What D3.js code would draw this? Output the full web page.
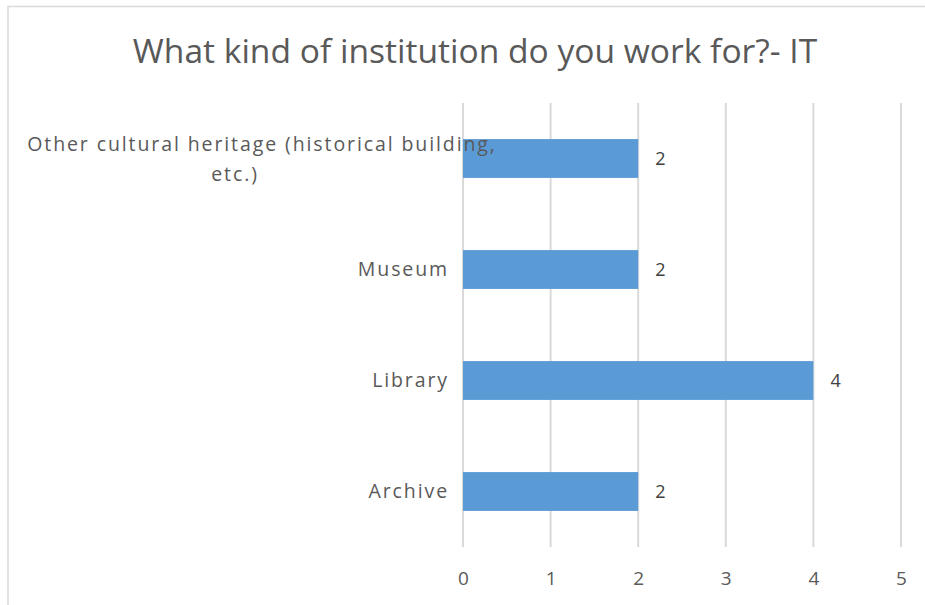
<!DOCTYPE html>
<html>
<head>
<meta charset="utf-8">
<script src="https://cdn.jsdelivr.net/npm/d3@7"></script>
<style>
  html, body { margin: 0; padding: 0; background: #fff; }
  svg { display: block; }
  text { font-family: "Open Sans", "Noto Sans", sans-serif; }
</style>
</head>
<body>
<svg id="chart" width="925" height="605"></svg>
<script>
// Survey answers, listed top to bottom
const categories = [
  ["Other cultural heritage (historical building,", "etc.)"],
  ["Museum"],
  ["Library"],
  ["Archive"]
];
const counts = [2, 2, 4, 2];
const xTicks = [0, 1, 2, 3, 4, 5];
const title = "What kind of institution do you work for?- IT";

const svg = d3.select("#chart");
const W = 925, H = 605;
const margin = { top: 103, right: 24, bottom: 58, left: 463 };

// chart frame
svg.append("rect")
  .attr("x", 8).attr("y", 6.5)
  .attr("width", W + 20).attr("height", H + 20)
  .attr("fill", "#fff").attr("stroke", "#d9d9d9").attr("stroke-width", 1.5);

svg.append("text")
  .attr("x", 475).attr("y", 63)
  .attr("text-anchor", "middle")
  .attr("font-size", 33.6)
  .attr("fill", "#595959")
  .text(title);

const x = d3.scaleLinear().domain([0, 5]).range([margin.left, 901]);
const y = d3.scaleBand()
  .domain(d3.range(categories.length))
  .range([margin.top, H - margin.bottom])
  .paddingInner(0.65).paddingOuter(0.325);

// vertical gridlines
svg.append("g")
  .selectAll("line")
  .data(xTicks)
  .join("line")
  .attr("x1", d => x(d)).attr("x2", d => x(d))
  .attr("y1", margin.top).attr("y2", H - margin.bottom)
  .attr("stroke", "#d9d9d9").attr("stroke-width", 2);

// x axis labels
const xAxis = d3.axisBottom(x).tickValues(xTicks).tickFormat(d3.format("d"))
  .tickSize(0).tickPadding(0);
const gx = svg.append("g")
  .attr("transform", `translate(0,${H - margin.bottom})`)
  .call(xAxis);
gx.select(".domain").remove();
gx.selectAll("text")
  .attr("dy", null)
  .attr("y", 38)
  .attr("font-size", 19)
  .attr("font-family", "'Open Sans', sans-serif")
  .attr("fill", "#595959");

// bars
svg.append("g")
  .selectAll("rect")
  .data(counts)
  .join("rect")
  .attr("x", x(0))
  .attr("y", (d, i) => y(i))
  .attr("width", d => x(d) - x(0))
  .attr("height", y.bandwidth())
  .attr("fill", "#5b9bd5");

// value labels
svg.append("g")
  .selectAll("text")
  .data(counts)
  .join("text")
  .attr("x", d => x(d) + 17)
  .attr("y", (d, i) => y(i) + y.bandwidth() / 2)
  .attr("dy", "0.35em")
  .attr("font-size", 18)
  .attr("fill", "#404040")
  .text(d => d);

// category labels
const catG = svg.append("g");
categories.forEach((lines, i) => {
  const cy = y(i) + y.bandwidth() / 2;
  const n = lines.length;
  const t = catG.append("text")
    .attr("font-size", 19.5)
    .attr("letter-spacing", 1.9)
    .attr("fill", "#595959");
  if (n === 1) {
    t.attr("x", margin.left - 14).attr("y", cy).attr("dy", "0.35em")
      .attr("text-anchor", "end").text(lines[0]);
  } else {
    t.attr("text-anchor", "middle");
    t.append("tspan").attr("x", 262).attr("y", cy - 14).attr("dy", "0.35em").text(lines[0]);
    t.append("tspan").attr("x", 235).attr("y", cy + 16).attr("dy", "0.35em").text(lines[1]);
  }
});
</script>
</body>
</html>
